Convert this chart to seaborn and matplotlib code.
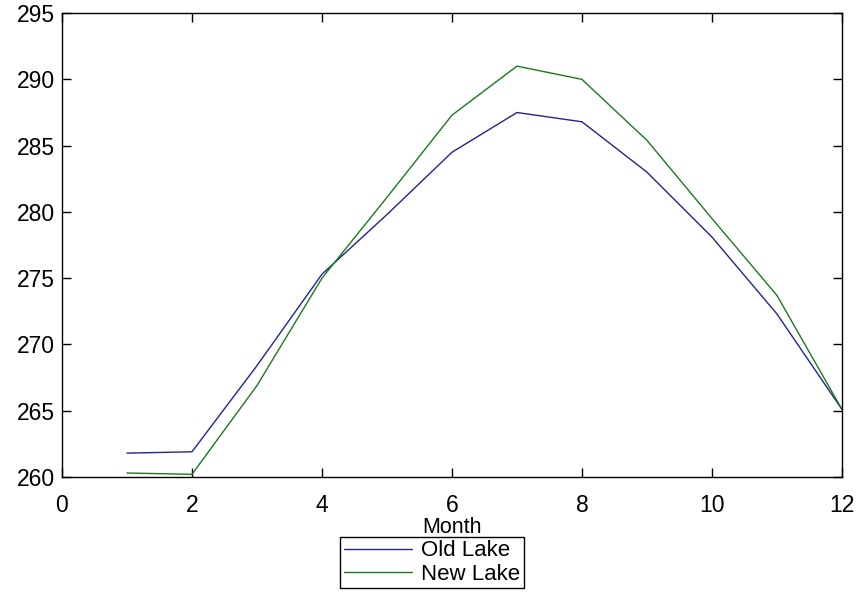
import matplotlib
matplotlib.use("Agg")
import matplotlib.pyplot as plt
import seaborn as sns
import pandas as pd

months = [1, 2, 3, 4, 5, 6, 7, 8, 9, 10, 11, 12]
old_lake = [261.8, 261.9, 268.4, 275.3, 279.8, 284.5, 287.5, 286.8, 283.0, 278.1, 272.3, 265.1]
new_lake = [260.3, 260.2, 266.9, 275.0, 281.1, 287.3, 291.0, 290.0, 285.4, 279.5, 273.7, 265.1]
series_names = ["Old Lake", "New Lake"]
x_ticks = [0, 2, 4, 6, 8, 10, 12]
y_ticks = [260, 265, 270, 275, 280, 285, 290, 295]

df = pd.DataFrame({
    "Month": months * 2,
    "Temperature": old_lake + new_lake,
    "Lake": [series_names[0]] * len(months) + [series_names[1]] * len(months),
})

sns.set_style("ticks")
plt.rcParams["font.family"] = ["Liberation Sans", "DejaVu Sans"]
plt.rcParams["text.color"] = "black"
plt.rcParams["axes.labelcolor"] = "black"

fig = plt.figure(figsize=(8.56, 5.96), dpi=100)
ax = fig.add_axes([0.0724, 0.1997, 0.9112, 0.7783])

sns.lineplot(data=df, x="Month", y="Temperature", hue="Lake",
             palette={"Old Lake": "#23238f", "New Lake": "#1c7a1c"},
             linewidth=1.0, ax=ax, legend=True, estimator=None, sort=False)

ax.set_xlim(0, 12)
ax.set_ylim(260, 295)
ax.set_xticks(x_ticks)
ax.set_yticks(y_ticks)
ax.tick_params(direction="in", length=6.5, width=1.0, top=True, right=True,
               labelsize=16.5, colors="black", pad=5)
ax.tick_params(axis="x", pad=12)
for s in ax.spines.values():
    s.set_visible(True)
    s.set_linewidth(1.0)
    s.set_color("black")

ax.set_xlabel("Month", fontsize=15.5, labelpad=0, color="black")
ax.set_ylabel("")

handles, labels = ax.get_legend_handles_labels()
ax.legend_.remove()
leg = fig.legend(handles, labels, loc="upper center",
                 bbox_to_anchor=(432 / 856, 1 - 537 / 596),
                 fontsize=16, frameon=True, fancybox=False, framealpha=1,
                 edgecolor="black", handlelength=3.1, handletextpad=0.4,
                 borderpad=0.15, labelspacing=0.12, borderaxespad=0,
                 labelcolor="black")
leg.get_frame().set_linewidth(1.0)

fig.savefig("out.png", dpi=100)
